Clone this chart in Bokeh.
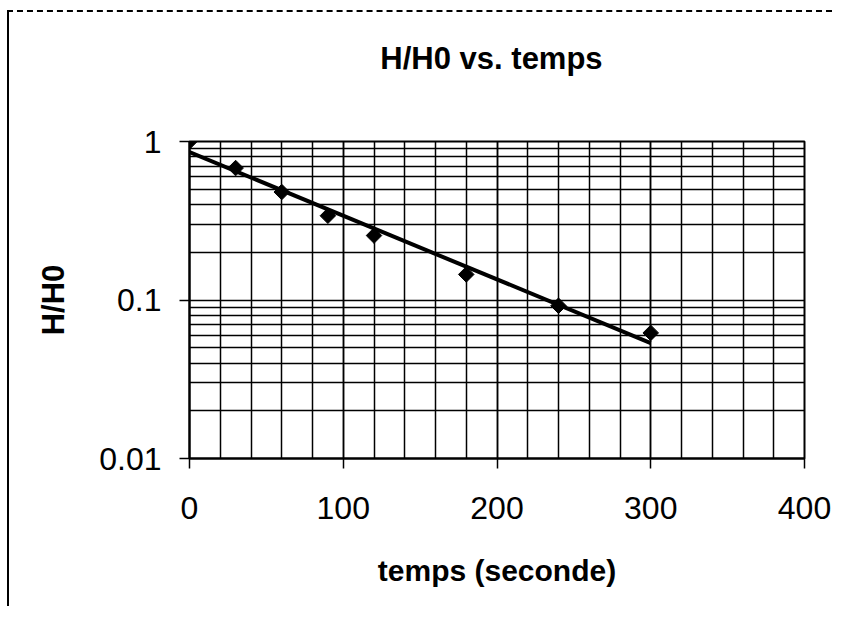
import numpy as np
from bokeh.plotting import figure
from bokeh.layouts import column
from bokeh.models import FixedTicker, Range1d, Div
from bokeh.embed import file_html
from bokeh.resources import INLINE

# Data
temps = [0, 30, 60, 90, 120, 180, 240, 300]
h_ratio = [1.0, 0.68, 0.48, 0.34, 0.255, 0.145, 0.092, 0.062]

x_ticks = [0, 100, 200, 300, 400]
x_minor = list(range(0, 401, 20))
y_ticks = [0.01, 0.1, 1]
y_minor = [m * d for d in (0.01, 0.1) for m in range(2, 10)]

title_text = "H/H0 vs. temps"

# Exponential trend line (least squares on log values, as the spreadsheet did)
slope, intercept = np.polyfit(np.array(temps, float), np.log(h_ratio), 1)
trend_x = [temps[0], temps[-1]]
trend_y = [float(np.exp(intercept + slope * t)) for t in trend_x]

FONT = "Liberation Sans"

p = figure(
    y_axis_type="log",
    x_range=Range1d(0, 400),
    y_range=Range1d(0.01, 1),
    frame_width=615,
    frame_height=317,
    min_border_left=180,
    min_border_right=28,
    min_border_top=49,
    min_border_bottom=148,
    output_backend="svg",
    toolbar_location=None,
)

title_div = Div(
    text=(f'<div style="display:block;box-sizing:border-box;width:823px;'
          f'padding-top:29px;padding-left:142px;text-align:center;'
          f'font-family:\'{FONT}\';font-weight:bold;font-size:31px;line-height:36px;'
          f'color:black;">{title_text}</div>'),
    width=823, height=80, margin=(0, 0, 0, 0),
)

p.outline_line_color = "black"
p.outline_line_width = 2

p.xaxis.ticker = FixedTicker(ticks=x_ticks, minor_ticks=x_minor)
p.yaxis.ticker = FixedTicker(ticks=y_ticks, minor_ticks=y_minor)
p.yaxis.major_label_overrides = {0.01: "0.01", 0.1: "0.1", 1: "1"}

for ax in (p.xaxis[0], p.yaxis[0]):
    ax.axis_line_color = "black"
    ax.axis_line_width = 2
    ax.major_tick_line_color = "black"
    ax.major_tick_line_width = 1.5
    ax.major_tick_out = 10
    ax.major_tick_in = 0
    ax.minor_tick_line_color = None
    ax.major_label_text_font = FONT
    ax.major_label_text_font_size = "32px"
    ax.major_label_text_color = "black"
    ax.axis_label_text_font = FONT
    ax.axis_label_text_font_size = "30px"
    ax.axis_label_text_font_style = "bold"
    ax.axis_label_text_color = "black"

p.xaxis.axis_label = "temps (seconde)"
p.yaxis.axis_label = "H/H0"
p.yaxis.axis_label_text_font_size = "31px"
p.xaxis.major_label_standoff = 28
p.xaxis.axis_label_standoff = 32
p.yaxis.major_label_standoff = 18
p.yaxis.axis_label_standoff = 25

for g in (p.xgrid[0], p.ygrid[0]):
    g.grid_line_color = "black"
    g.grid_line_width = 1.5
    g.minor_grid_line_color = "black"
    g.minor_grid_line_width = 1.5

p.line(trend_x, trend_y, line_color="black", line_width=4)
p.scatter(temps, h_ratio, marker="square", angle=np.pi / 4, size=11,
          fill_color="black", line_color="black")

layout = column(title_div, p, spacing=0)
layout.styles = {"border-left": "2px solid black", "border-top": "2px dashed black",
                 "margin-left": "7px", "margin-top": "10px"}

open("out.html", "w").write(file_html(layout, INLINE))
